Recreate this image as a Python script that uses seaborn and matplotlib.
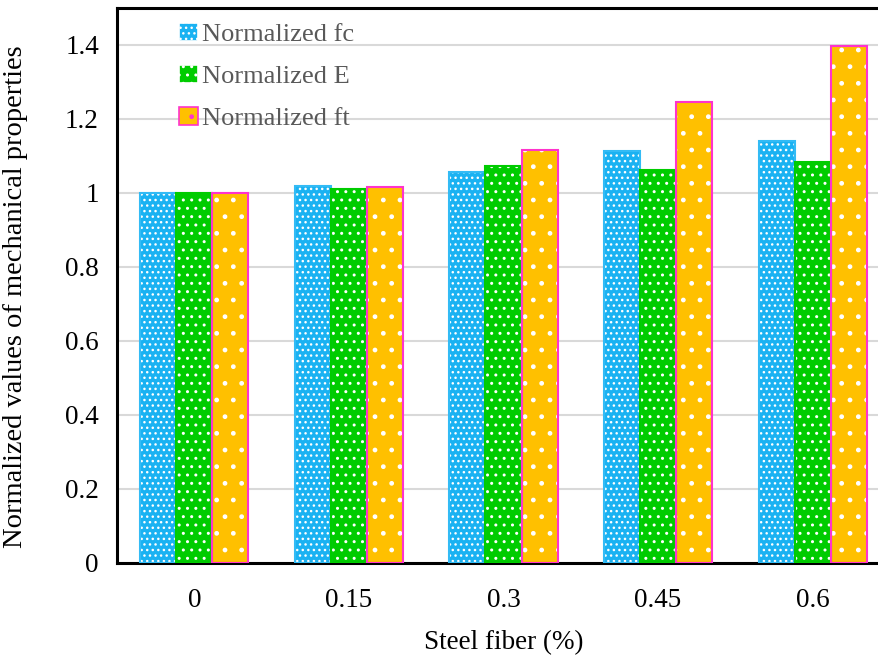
import matplotlib
matplotlib.use("Agg")
import matplotlib.pyplot as plt
from matplotlib.patches import Rectangle
import seaborn as sns
import pandas as pd

# Steel fiber content (%) and normalized mechanical properties
fiber = ["0", "0.15", "0.3", "0.45", "0.6"]
norm_fc = [1.000, 1.019, 1.057, 1.114, 1.141]
norm_E = [1.000, 1.011, 1.073, 1.062, 1.084]
norm_ft = [1.000, 1.016, 1.116, 1.246, 1.397]
series = ["Normalized fc", "Normalized E", "Normalized ft"]

fill_colors = ["#1ab2f2", "#00cc00", "#ffc000"]
edge_colors = ["#33bbf5", "#00cc00", "#ff33cc"]
hatches = ["...", "..", "."]

df = pd.DataFrame({
    "fiber": fiber * 3,
    "value": norm_fc + norm_E + norm_ft,
    "series": [s for s in series for _ in fiber],
})

sns.set_theme(style="white")
plt.rcParams["font.family"] = ["Liberation Serif", "DejaVu Serif"]
plt.rcParams["hatch.linewidth"] = 1.0

fig = plt.figure(figsize=(8.79, 6.58), dpi=100)
ax = fig.add_axes([117 / 879, 95 / 658, 773 / 879, 555 / 658])

sns.barplot(data=df, x="fiber", y="value", hue="series", order=fiber,
            hue_order=series, palette=fill_colors, width=0.7, saturation=1,
            ax=ax, zorder=2)

# White hatch textures on each bar plus a coloured outline drawn on top
for i, container in enumerate(ax.containers):
    for bar in container:
        bar.set_hatch(hatches[i])
        bar.set_edgecolor("white")
        bar.set_linewidth(0)
        ax.add_patch(Rectangle(bar.get_xy(), bar.get_width(), bar.get_height(),
                               fill=False, edgecolor=edge_colors[i],
                               linewidth=1.5, zorder=3))

ax.set_ylim(0, 1.5)
ax.set_xlim(-0.5, 4.5)
ax.set_yticks([0, 0.2, 0.4, 0.6, 0.8, 1.0, 1.2, 1.4])
ax.set_yticklabels(["0", "0.2", "0.4", "0.6", "0.8", "1", "1.2", "1.4"])
ax.yaxis.grid(True, color="#d9d9d9", linewidth=1.5, zorder=0)
ax.set_axisbelow(True)
ax.tick_params(axis="x", length=0, labelsize=19.5, colors="black", pad=18)
ax.tick_params(axis="y", length=0, labelsize=19.5, colors="black", pad=13)

for side in ["left", "bottom", "top", "right"]:
    ax.spines[side].set_color("black")
    ax.spines[side].set_linewidth(2.2)

ax.set_xlabel("Steel fiber (%)", fontsize=19.5, color="black", labelpad=12)
ax.set_ylabel("Normalized values of mechanical properties", fontsize=20.5,
              color="black")
ax.yaxis.set_label_coords(-0.115, 0.48)

# Legend with matching hatched swatches
handles, labels = ax.get_legend_handles_labels()
for i, h in enumerate(handles):
    h.set_hatch(hatches[i])
    h.set_edgecolor(edge_colors[i] if i == 2 else "white")
    h.set_linewidth(1.2)
leg = ax.legend(handles, labels, loc="upper left", bbox_to_anchor=(0.050, 1.016),
                frameon=False, fontsize=19, handlelength=0.7, handleheight=0.7,
                handletextpad=0.15, labelspacing=0.7, labelcolor="#595959")

fig.savefig("out.png", dpi=100)
